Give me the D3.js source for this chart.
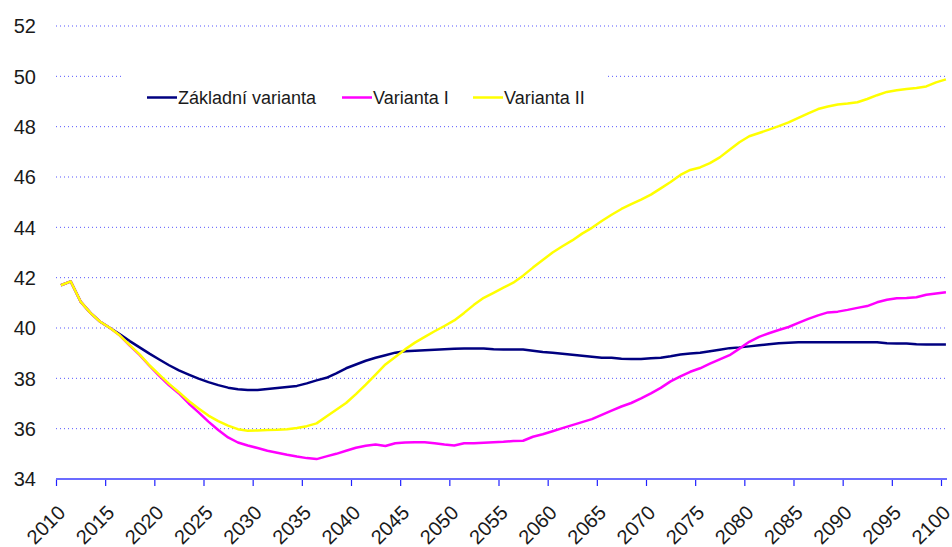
<!DOCTYPE html>
<html>
<head>
<meta charset="utf-8">
<script src="https://cdn.jsdelivr.net/npm/d3@7"></script>
<style>
  body { margin: 0; background: #fff; }
  svg { display: block; font-family: "Liberation Sans", Arial, sans-serif; }
</style>
</head>
<body>
<div id="root"></div>
<script>
// years on the category axis
const years = d3.range(2010, 2101)
const tickYears = d3.range(2010, 2101, 5)
const yTicks = d3.range(34, 53, 2)
const seriesNames = ["Základní varianta", "Varianta I", "Varianta II"]
const seriesColors = ["#000080", "#ff00ff", "#ffff00"]

const zakladni = [
  41.70, 41.85, 41.05, 40.60, 40.25, 40.00, 39.75, 39.48, 39.23, 38.98,
  38.75, 38.52, 38.32, 38.15, 37.99, 37.85, 37.73, 37.63, 37.57, 37.54,
  37.54, 37.58, 37.62, 37.66, 37.70, 37.80, 37.92, 38.02, 38.20, 38.40,
  38.55, 38.70, 38.82, 38.92, 39.02, 39.08, 39.10, 39.12, 39.14, 39.16,
  39.18, 39.19, 39.19, 39.19, 39.16, 39.15, 39.15, 39.15, 39.10, 39.05,
  39.02, 38.98, 38.94, 38.90, 38.86, 38.82, 38.82, 38.78, 38.77, 38.77,
  38.80, 38.82, 38.88, 38.95, 38.99, 39.02, 39.08, 39.14, 39.20, 39.23,
  39.27, 39.31, 39.35, 39.39, 39.41, 39.43, 39.43, 39.43, 39.43, 39.43,
  39.43, 39.43, 39.43, 39.43, 39.39, 39.38, 39.38, 39.35, 39.34, 39.34,
  39.34
]
const variantaI = [
  41.70, 41.85, 41.05, 40.60, 40.25, 40.00, 39.70, 39.30, 38.93, 38.50,
  38.10, 37.72, 37.40, 37.00, 36.65, 36.28, 35.95, 35.65, 35.45, 35.33,
  35.23, 35.12, 35.04, 34.96, 34.89, 34.83, 34.79, 34.90, 35.00, 35.12,
  35.24, 35.32, 35.37, 35.31, 35.42, 35.45, 35.46, 35.46, 35.42, 35.37,
  35.33, 35.42, 35.42, 35.44, 35.46, 35.48, 35.51, 35.52, 35.68, 35.78,
  35.90, 36.02, 36.14, 36.26, 36.38, 36.55, 36.72, 36.88, 37.02, 37.20,
  37.40, 37.62, 37.88, 38.08, 38.26, 38.40, 38.58, 38.75, 38.92, 39.18,
  39.45, 39.65, 39.79, 39.92, 40.04, 40.20, 40.36, 40.50, 40.62, 40.65,
  40.72, 40.80, 40.87, 41.02, 41.12, 41.18, 41.19, 41.22, 41.32, 41.37,
  41.42
]
const variantaII = [
  41.70, 41.85, 41.05, 40.60, 40.25, 40.00, 39.70, 39.32, 38.95, 38.52,
  38.15, 37.78, 37.45, 37.10, 36.80, 36.52, 36.30, 36.12, 35.98, 35.92,
  35.93, 35.95, 35.96, 35.98, 36.03, 36.10, 36.21, 36.48, 36.75, 37.02,
  37.37, 37.75, 38.15, 38.55, 38.85, 39.15, 39.42, 39.65, 39.87, 40.08,
  40.30, 40.60, 40.92, 41.20, 41.40, 41.60, 41.80, 42.08, 42.40, 42.70,
  43.00, 43.25, 43.48, 43.75, 43.98, 44.25, 44.50, 44.73, 44.92, 45.10,
  45.30, 45.55, 45.80, 46.08, 46.28, 46.38, 46.55, 46.78, 47.08, 47.38,
  47.62, 47.75, 47.88, 48.02, 48.17, 48.35, 48.53, 48.70, 48.80, 48.88,
  48.92, 48.97, 49.10, 49.25, 49.38, 49.45, 49.50, 49.54, 49.60, 49.76,
  49.88
]
const seriesValues = [zakladni, variantaI, variantaII]

const width = 952
const height = 547

const svg = d3.select("#root").append("svg")
  .attr("width", width)
  .attr("height", height)

// scales -- points sit in the middle of each year's slot
const x = d3.scaleLinear().domain([2010, 2100]).range([56, 941])
const y = d3.scaleLinear().domain([34, 52]).range([479, 26])
const plotRight = 947

// dotted gridlines
svg.append("g")
  .selectAll("line")
  .data(yTicks.filter(d => d > 34))
  .enter().append("line")
  .attr("x1", x(2010)).attr("x2", plotRight)
  .attr("y1", d => y(d)).attr("y2", d => y(d))
  .attr("stroke", "#2d2dff")
  .attr("stroke-width", 1)
  .attr("stroke-dasharray", "1,3")
  .attr("opacity", 0.8)

// y labels
svg.append("g")
  .selectAll("text")
  .data(yTicks)
  .enter().append("text")
  .attr("x", 36)
  .attr("y", d => y(d))
  .attr("dy", "0.36em")
  .attr("text-anchor", "end")
  .attr("font-size", 20)
  .attr("fill", "#1a1a1a")
  .text(d => d)

// x axis
const xAxis = svg.append("g")
  .attr("transform", `translate(0,${y(34)})`)
  .call(d3.axisBottom(x).tickValues(tickYears).tickSize(7).tickSizeOuter(0).tickFormat(d3.format("d")))
xAxis.select(".domain").remove()
xAxis.append("line")
  .attr("x1", x(2010)).attr("x2", plotRight)
  .attr("stroke", "#6b6bff").attr("stroke-width", 2)
xAxis.selectAll(".tick line").attr("stroke", "#2020ff").attr("stroke-width", 1.2)
xAxis.selectAll(".tick text")
  .attr("font-size", 20)
  .attr("font-family", "Liberation Sans, Arial, sans-serif")
  .attr("fill", "#1a1a1a")
  .attr("text-anchor", "end")
  .attr("y", 0).attr("dy", 0)
  .attr("transform", "translate(10,35) rotate(-45)")

// legend background hides the 50 gridline
const legend = svg.append("g")
legend.append("rect")
  .attr("x", 124).attr("y", 68).attr("width", 484).attr("height", 52)
  .attr("fill", "#fff")

const legendX = [147, 342, 473]
seriesNames.forEach((name, i) => {
  legend.append("line")
    .attr("x1", legendX[i]).attr("x2", legendX[i] + 30)
    .attr("y1", 97.5).attr("y2", 97.5)
    .attr("stroke", seriesColors[i]).attr("stroke-width", 2.5)
  legend.append("text")
    .attr("x", legendX[i] + 31).attr("y", 104)
    .attr("font-size", 18)
    .attr("fill", "#1a1a1a")
    .text(name)
})

// series lines
const line = d3.line()
  .x((d, i) => x(years[i] + 0.5))
  .y(d => y(d))

seriesValues.forEach((vals, i) => {
  svg.append("path")
    .datum(vals)
    .attr("fill", "none")
    .attr("stroke", seriesColors[i])
    .attr("stroke-width", 2.5)
    .attr("stroke-linejoin", "round")
    .attr("d", line)
})
</script>
</body>
</html>
